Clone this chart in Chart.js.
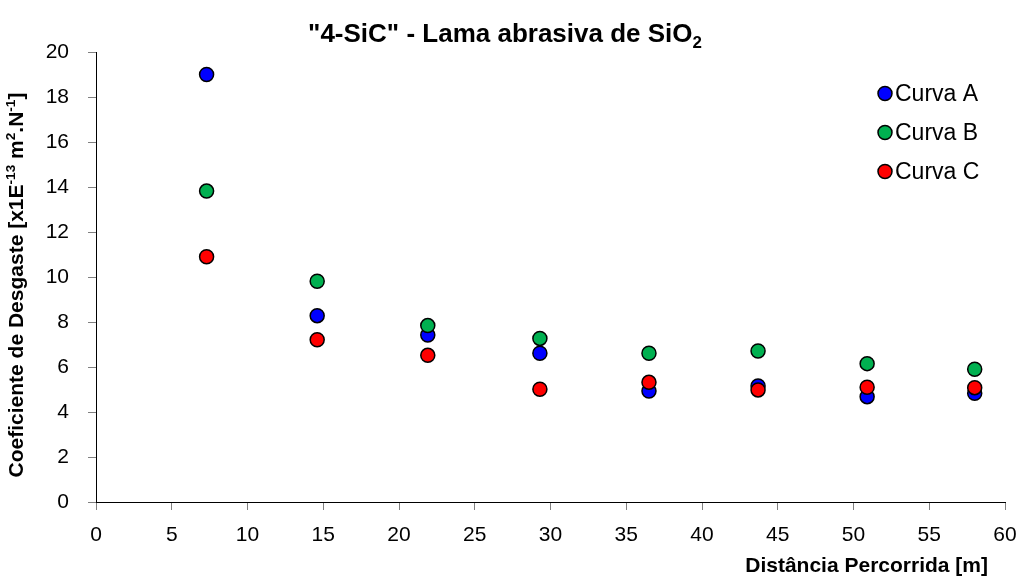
<!DOCTYPE html>
<html>
<head>
<meta charset="utf-8">
<script src="https://cdn.jsdelivr.net/npm/chart.js@4/dist/chart.umd.min.js"></script>
<style>
  html, body { margin: 0; padding: 0; background: #ffffff; }
  #wrap { width: 1023px; height: 576px; }
</style>
</head>
<body>
<div id="wrap"><canvas id="c" width="1023" height="576"></canvas></div>
<script>
// Distância percorrida [m] e coeficiente de desgaste [x1E-13 m2.N-1]
const distancias = [7.3, 14.6, 21.9, 29.3, 36.5, 43.7, 50.9, 58.0];
const curvaA = [19.0, 8.28, 7.42, 6.61, 4.93, 5.16, 4.68, 4.83];
const curvaB = [13.82, 9.81, 7.84, 7.27, 6.61, 6.71, 6.15, 5.90];
const curvaC = [10.9, 7.21, 6.52, 5.01, 5.32, 4.98, 5.10, 5.08];
const nomesSeries = ['Curva A', 'Curva B', 'Curva C'];
const coresSeries = ['#0000FF', '#00B050', '#FF0000'];
const xTicks = [0, 5, 10, 15, 20, 25, 30, 35, 40, 45, 50, 55, 60];
const yTicks = [0, 2, 4, 6, 8, 10, 12, 14, 16, 18, 20];

const FONT = "'Liberation Sans', Arial, sans-serif";

function pontos(valores) {
  return distancias.map((d, i) => ({ x: d, y: valores[i] }));
}

// Draws a line of text made of normal / superscript / subscript pieces.
function textoRico(ctx, partes, x, y, size, weight, align) {
  const tam = (p) => (p[1] === 'n' ? size : size * 0.65);
  const total = partes.reduce((w, p) => {
    ctx.font = `${weight} ${tam(p)}px ${FONT}`;
    return w + ctx.measureText(p[0]).width;
  }, 0);
  let cx = align === 'center' ? x - total / 2 : (align === 'right' ? x - total : x);
  ctx.textAlign = 'left';
  ctx.textBaseline = 'alphabetic';
  for (const p of partes) {
    const dy = p[1] === 'sup' ? -size * 0.38 : (p[1] === 'sub' ? size * 0.22 : 0);
    ctx.font = `${weight} ${tam(p)}px ${FONT}`;
    ctx.fillText(p[0], cx, y + dy);
    cx += ctx.measureText(p[0]).width;
  }
}

const textosPlugin = {
  id: 'textos',
  afterDraw(chart) {
    const ctx = chart.ctx;
    ctx.save();
    ctx.fillStyle = '#000';

    // Título
    textoRico(ctx, [['"4-SiC" - Lama abrasiva de SiO', 'n'], ['2', 'sub']],
      505, 42, 26, 'bold', 'center');

    // Título do eixo Y (rodado)
    ctx.save();
    ctx.translate(23, 285);
    ctx.rotate(-Math.PI / 2);
    textoRico(ctx, [
      ['Coeficiente de Desgaste [x1E', 'n'], ['-13', 'sup'],
      [' m', 'n'], ['2', 'sup'], ['.N', 'n'], ['-1', 'sup'], [']', 'n']
    ], 0, 0, 21, 'bold', 'center');
    ctx.restore();

    // Título do eixo X
    textoRico(ctx, [['Distância Percorrida [m]', 'n']], 988, 572, 21, 'bold', 'right');

    // Legenda
    chart.data.datasets.forEach((ds, i) => {
      const cy = 93.5 + i * 39;
      ctx.beginPath();
      ctx.arc(885, cy, 7, 0, Math.PI * 2);
      ctx.fillStyle = ds.backgroundColor;
      ctx.fill();
      ctx.lineWidth = 1.5;
      ctx.strokeStyle = '#000';
      ctx.stroke();
      ctx.fillStyle = '#000';
      ctx.font = `23px ${FONT}`;
      ctx.textAlign = 'left';
      ctx.textBaseline = 'middle';
      ctx.fillText(ds.label, 895, cy + 1);
    });
    ctx.restore();
  }
};

const conjuntos = [curvaA, curvaB, curvaC].map((valores, i) => ({
  label: nomesSeries[i],
  data: pontos(valores),
  backgroundColor: coresSeries[i],
  borderColor: '#000000',
  borderWidth: 1.5,
  pointRadius: 7,
  pointHoverRadius: 7,
  order: 2 - i
}));

new Chart(document.getElementById('c'), {
  type: 'scatter',
  data: { datasets: conjuntos },
  options: {
    responsive: false,
    devicePixelRatio: 1,
    animation: false,
    layout: { padding: { left: 0, top: 52, right: 18, bottom: 0 } },
    plugins: {
      legend: { display: false },
      title: { display: false },
      tooltip: { enabled: false }
    },
    scales: {
      x: {
        type: 'linear',
        min: 0, max: 60,
        afterBuildTicks: (s) => { s.ticks = xTicks.map(v => ({ value: v })); },
        afterFit: (s) => { s.height = 74; s.paddingLeft = 0; s.paddingRight = 0; },
        ticks: { color: '#000', font: { family: FONT, size: 21 }, padding: 13 },
        grid: { display: true, drawOnChartArea: false, drawTicks: true, tickLength: 8, color: '#808080' },
        border: { color: '#000', width: 1 }
      },
      y: {
        type: 'linear',
        min: 0, max: 20,
        afterBuildTicks: (s) => { s.ticks = yTicks.map(v => ({ value: v })); },
        afterFit: (s) => { s.width = 96; s.paddingTop = 0; s.paddingBottom = 0; },
        ticks: { color: '#000', font: { family: FONT, size: 21 }, padding: 19 },
        grid: { display: true, drawOnChartArea: false, drawTicks: true, tickLength: 8, color: '#808080' },
        border: { color: '#000', width: 1 }
      }
    }
  },
  plugins: [textosPlugin]
});
</script>
</body>
</html>
